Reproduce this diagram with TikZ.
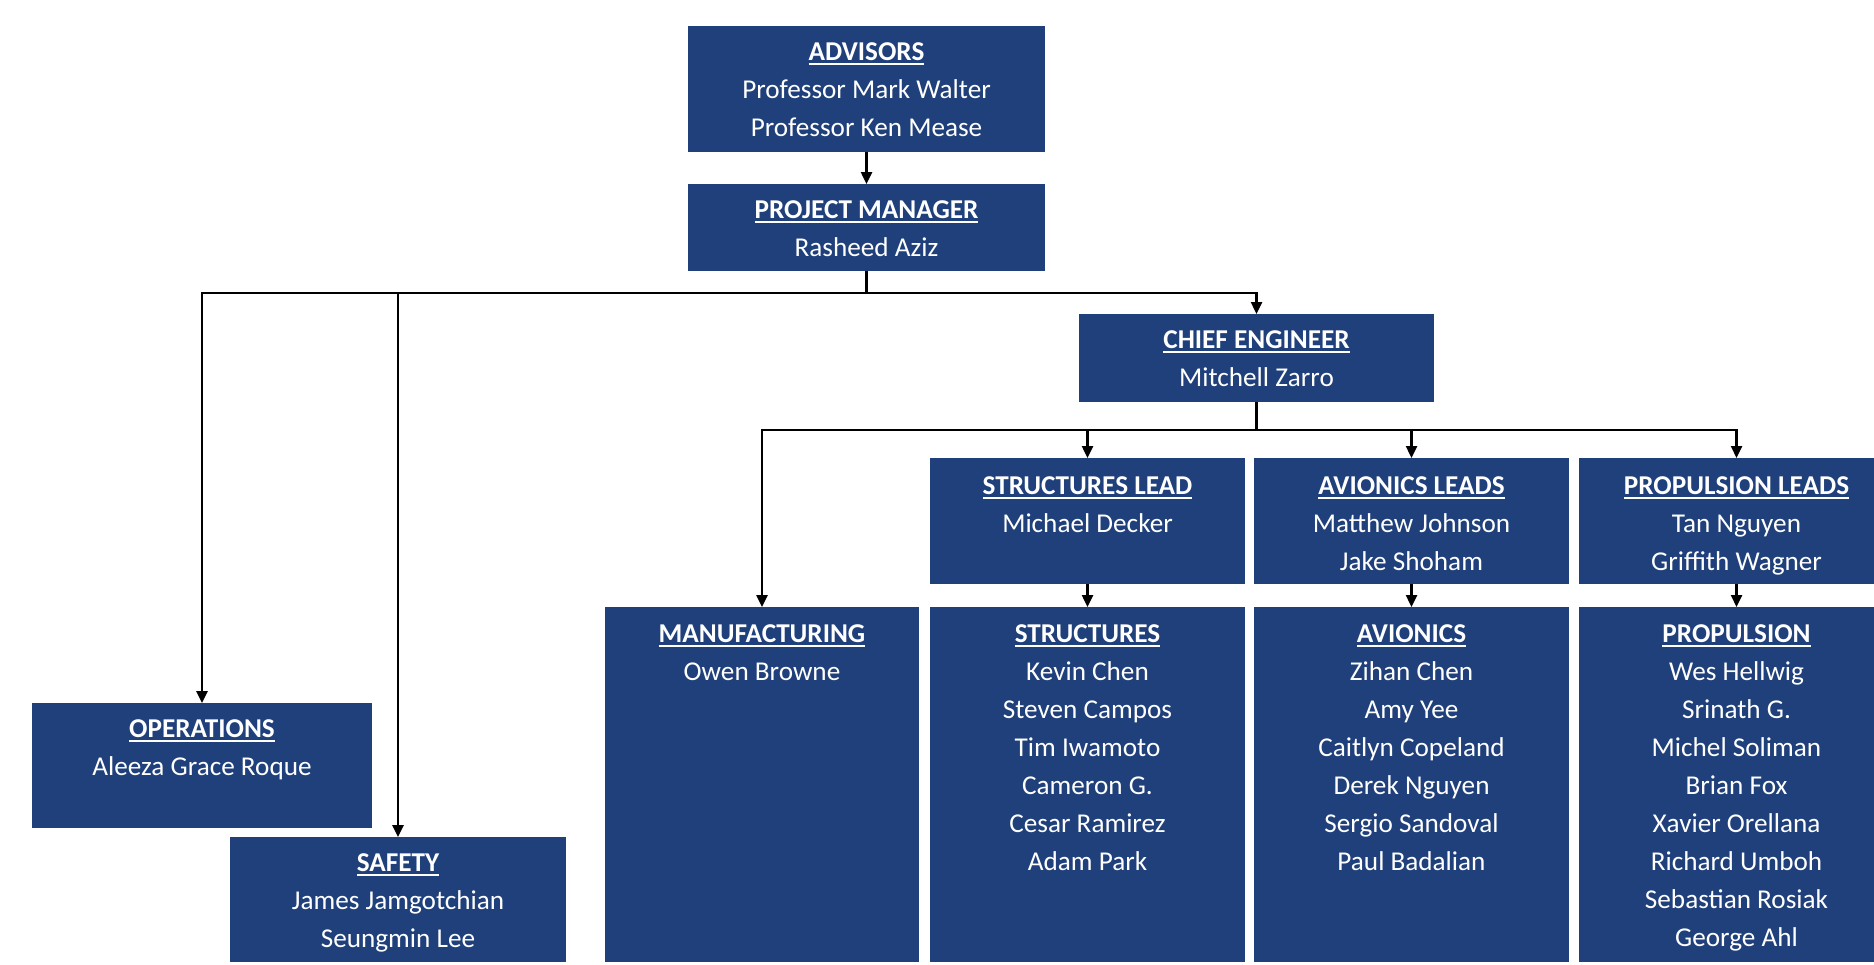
\documentclass[tikz,border=0pt]{standalone}
\usepackage{fontspec}
\setmainfont{Carlito}
\usetikzlibrary{arrows.meta, positioning, calc}
\definecolor{navy1}{RGB}{31, 64, 122}
\newcommand{\unittext}[4]{\parbox[c][#2pt][t]{#1pt}{\centering\rule{0pt}{#3pt}#4}}
\newcommand{\unithead}[1]{\sbox0{\bfseries #1}\rlap{\rule[-5pt]{\wd0}{2pt}}\usebox0}

\begin{document}
\begin{tikzpicture}[x=1pt, y=-1pt,
  orgunit/.style={fill=navy1, text=white, inner sep=0pt, outer sep=0pt, anchor=north west, font=\fontsize{27.2}{38}\selectfont},
  link/.style={line width=2.5pt, -{Triangle[length=12pt, width=11pt]}}]
  \useasboundingbox (0,0) rectangle (1874,964);
  \clip (0,0) rectangle (1874,964);
  % management
  \node[orgunit] (adv) at (688,26) {\unittext{357}{126}{34}{\unithead{ADVISORS}\\Professor Mark Walter\\Professor Ken Mease}};
  \node[orgunit, below=32pt of adv.south west, anchor=north west] (pm) {\unittext{357}{87}{34}{\unithead{PROJECT MANAGER}\\Rasheed Aziz}};
  \node[orgunit] (ce) at (1079,314) {\unittext{355}{88}{34}{\unithead{CHIEF ENGINEER}\\Mitchell Zarro}};
  \node[orgunit] (ops) at (32,703) {\unittext{340}{125}{34}{\unithead{OPERATIONS}\\Aleeza Grace Roque}};
  \node[orgunit] (safety) at (230,837) {\unittext{336}{125}{34}{\unithead{SAFETY}\\James Jamgotchian\\Seungmin Lee}};
  % leads
  \node[orgunit] (slead) at (930,458) {\unittext{315}{126}{36}{\unithead{STRUCTURES LEAD}\\Michael Decker}};
  \node[orgunit, right=9pt of slead.north east, anchor=north west] (alead) {\unittext{315}{126}{36}{\unithead{AVIONICS LEADS}\\Matthew Johnson\\Jake Shoham}};
  \node[orgunit, right=10pt of alead.north east, anchor=north west] (plead) {\unittext{315}{126}{36}{\unithead{PROPULSION LEADS}\\Tan Nguyen\\Griffith Wagner}};
  % teams
  \node[orgunit] (manu) at (605,607) {\unittext{314}{355}{35}{\unithead{MANUFACTURING}\\Owen Browne}};
  \node[orgunit, below=23pt of slead.south west, anchor=north west] (struct) {\unittext{315}{355}{35}{\unithead{STRUCTURES}\\Kevin Chen\\Steven Campos\\Tim Iwamoto\\Cameron G.\\Cesar Ramirez\\Adam Park}};
  \node[orgunit, below=23pt of alead.south west, anchor=north west] (avi) {\unittext{315}{355}{35}{\unithead{AVIONICS}\\Zihan Chen\\Amy Yee\\Caitlyn Copeland\\Derek Nguyen\\Sergio Sandoval\\Paul Badalian}};
  \node[orgunit, below=23pt of plead.south west, anchor=north west] (prop) {\unittext{315}{355}{35}{\unithead{PROPULSION}\\Wes Hellwig\\Srinath G.\\Michel Soliman\\Brian Fox\\Xavier Orellana\\Richard Umboh\\Sebastian Rosiak\\George Ahl}};
  % connectors
  \coordinate (pmJ) at ($(pm.south)+(0,22)$);
  \coordinate (ceJ) at ($(ce.south)+(0,28)$);
  \draw[link] (adv) -- (pm);
  \draw[link] (pm.south) -- (pmJ) -| (ops.north);
  \draw[link] (pmJ) -| (safety.north);
  \draw[link] (pmJ) -| (ce.north);
  \draw[link] (ce.south) -- (ceJ) -| (manu.north);
  \foreach \lead in {slead, alead, plead}
    \draw[link] (ceJ) -| (\lead.north);
  \foreach \lead/\team in {slead/struct, alead/avi, plead/prop}
    \draw[link] (\lead) -- (\team);
\end{tikzpicture}
\end{document}
